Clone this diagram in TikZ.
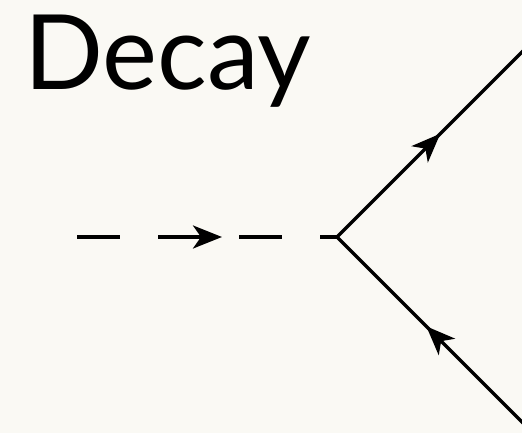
\documentclass[tikz,border=0pt]{standalone}
\usepackage{fontspec}
\setmainfont{Lato}
\usetikzlibrary{arrows.meta,decorations.markings}
\definecolor{bg}{RGB}{250,249,244}
\begin{document}
\begin{tikzpicture}[x=1pt,y=-1pt,
  prop/.style={line width=3.5pt, black},
  tipmark/.style={postaction={decorate},decoration={markings,
     mark=at position #1 with {\arrow{Stealth[length=29pt,width=23pt,inset=8pt]}}}}]
\fill[bg] (0,0) rectangle (522,433);
\useasboundingbox (0,0) rectangle (522,433);
\clip (0,0) rectangle (522,433);
\node[anchor=base west, inner sep=0pt, font=\fontsize{104}{110}\selectfont] (title) at (24,90) {Decay};
\coordinate (in) at (77,237);
\coordinate (v) at (337,237);
\coordinate (out1) at (526,48);
\coordinate (out2) at (526,426);
\draw[prop, dash pattern=on 43pt off 38pt, tipmark=145pt] (in) -- (v);
\draw[prop, tipmark=146pt] (v) -- (out1);
\draw[prop, tipmark=141pt] (out2) -- (v);
\end{tikzpicture}
\end{document}
